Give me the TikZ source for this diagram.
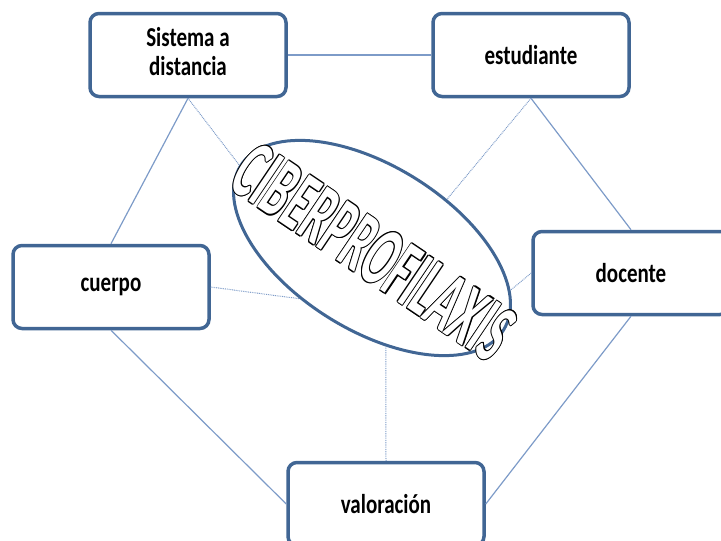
\documentclass[tikz,border=0pt]{standalone}
\usepackage{fontspec}
\setmainfont{Carlito}
\usetikzlibrary{shapes.geometric}
\definecolor{boxblue}{RGB}{65,102,148}
\definecolor{linkblue}{RGB}{125,155,200}
\newcommand{\boxtext}[1]{\scalebox{1}[1.3]{\begin{tabular}{@{}c@{}}#1\end{tabular}}}
\newcommand{\boxword}[1]{\raisebox{-4pt}{\scalebox{1}[1.3]{#1}}}
\newcommand{\outl}[3]{\makebox[0pt][l]{\hspace*{#1}\raisebox{#2}{#3}}}
\newcommand{\outlined}[1]{\outl{1pt}{0pt}{#1}\outl{-1pt}{0pt}{#1}\outl{0pt}{0.6pt}{#1}\outl{0pt}{-0.6pt}{#1}%
    \outl{0.7pt}{0.45pt}{#1}\outl{-0.7pt}{0.45pt}{#1}\outl{0.7pt}{-0.45pt}{#1}\outl{-0.7pt}{-0.45pt}{#1}%
    {\color{white}#1}}

\begin{document}
\begin{tikzpicture}[
                x=1pt, y=-1pt,
                concept/.style={rectangle,rounded corners=9pt,draw=boxblue,line width=3.5pt,fill=white,
                    minimum width=196pt,minimum height=83pt,inner sep=0pt,
                    font=\bfseries\fontsize{21}{23}\selectfont},
                link/.style={draw=linkblue,line width=1.2pt},
                weak/.style={draw=linkblue,line width=1pt,dash pattern=on 0.9pt off 0.9pt}
            ]
                \useasboundingbox (0,0) rectangle (721,541);
                \node[concept] (sist) at (188,55)  {\boxtext{Sistema a\\distancia}};
                \node[concept] (estu) at (531,55)  {\boxword{estudiante}};
                \node[concept] (cuer) at (111,287) {\boxword{cuerpo}};
                \node[concept] (doce) at (631,273) {\boxword{docente}};
                \node[concept] (valo) at (386,504) {\boxword{valoración}};
                \node[ellipse,draw=boxblue,line width=3pt,rotate=-32,
                    minimum width=310pt,minimum height=164pt] (ell) at (372,248) {};
                \draw[link] (sist.east) -- (estu.west);
                \draw[link] (sist.south) -- (cuer.north);
                \draw[link] (estu.south) -- (doce.north);
                \draw[link] (cuer.south) -- (valo.west);
                \draw[link] (doce.south) -- (valo.east);
                \draw[weak] (sist.south) -- (ell.west);
                \draw[weak] (estu.south) -- (ell.65);
                \draw[weak] (cuer.east) -- (ell.247);
                \draw[weak] (doce.west) -- (ell.15);
                \draw[weak] (valo.north) -- (ell.310);
                \node[rotate=-34,inner sep=0pt,font=\bfseries\fontsize{44}{44}\selectfont] (title) at (374,252)
                    {\scalebox{1}[1.95]{\outlined{CIBERPROFILAXIS}}};
            \end{tikzpicture}
\end{document}
